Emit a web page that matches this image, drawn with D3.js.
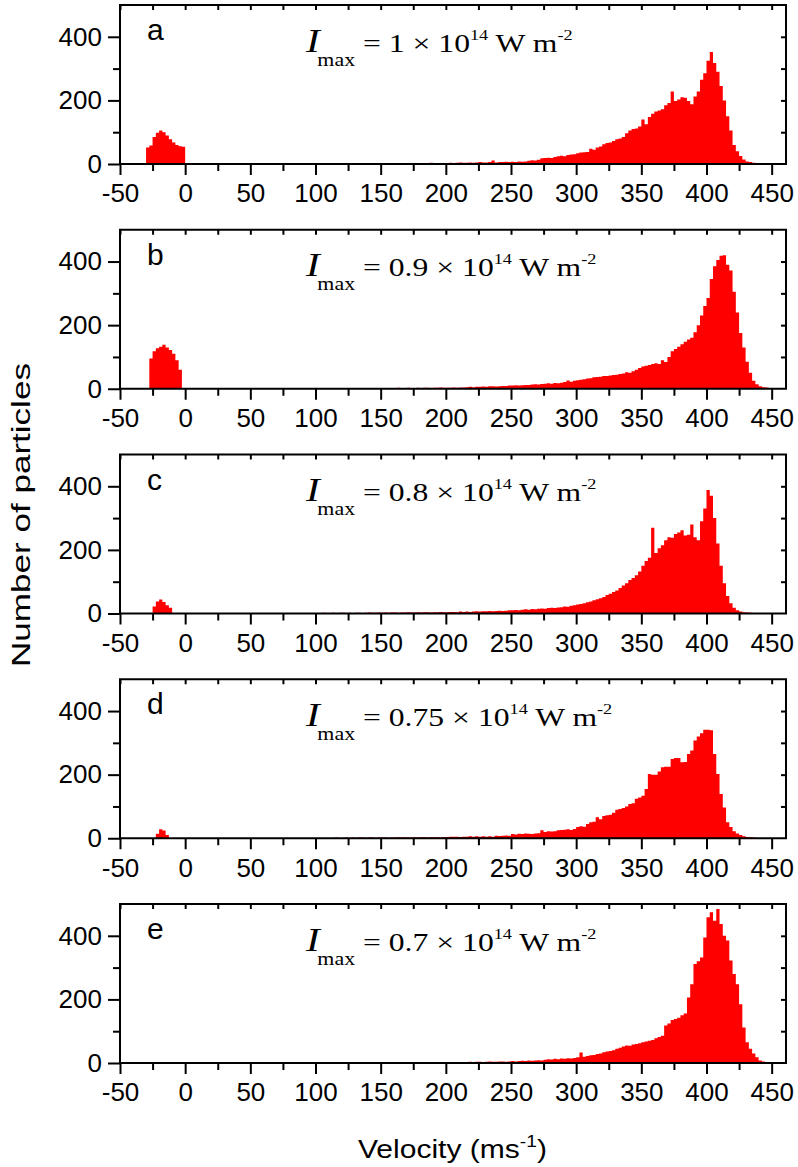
<!DOCTYPE html>
<html>
<head>
<meta charset="utf-8">
<script src="https://cdn.jsdelivr.net/npm/d3@7"></script>
<style>
  body { margin: 0; background: #fff; }
  svg { display: block; }
  text { fill: #000; white-space: pre; }
</style>
</head>
<body>
<svg id="chart" width="798" height="1167"></svg>
<script>
// ---------------------------------------------------------------------
// Data: particle counts per 2.5 m/s velocity bin
// ---------------------------------------------------------------------
const binWidth = 2.5;
const panelLetters = ['a', 'b', 'c', 'd', 'e'];
const intensities = ['1', '0.9', '0.8', '0.75', '0.7'];
const xMajorTicks = [-50, 0, 50, 100, 150, 200, 250, 300, 350, 400, 450];
const xMinorTicks = [-25, 25, 75, 125, 175, 225, 275, 325, 375, 425];
const yMajorTicks = [0, 200, 400];
const yMinorTicks = [100, 300];

// backward-moving particles, bins start at -30
const negStart = -30;
const negA = [52, 58, 85, 98, 105, 100, 90, 78, 68, 60, 56, 54, 3];
const negB = [0, 95, 118, 127, 132, 138, 130, 122, 110, 90, 60, 0];
const negC = [0, 0, 22, 38, 44, 36, 26, 18, 0];
const negD = [0, 0, 0, 14, 28, 24, 10, 0];
const negE = [];

// forward-moving particles
const mainStarts = [100, 100, 100, 100, 190];
const mainA = [
  1, 0, 2, 1, 1, 2, 0, 1, 2, 1, 1, 2, 1, 0, 2, 1, 2, 1, 2, 1,
  2, 1, 3, 2, 1, 2, 2, 3, 1, 2, 3, 2, 2, 3, 2, 4, 3, 2, 3, 3,
  3, 4, 3, 4, 5, 4, 4, 5, 4, 5, 6, 5, 5, 6, 11, 5, 6, 6, 7, 6,
  7, 6, 8, 7, 8, 10, 12, 11, 13, 18, 19, 20, 19, 22, 24, 26, 24, 28, 30, 31,
  34, 36, 37, 38, 48, 45, 52, 55, 62, 66, 68, 72, 78, 80, 85, 97, 105, 110, 112, 118,
  140, 125, 148, 158, 165, 168, 172, 185, 192, 228, 198, 203, 210, 208, 198, 188, 212, 228, 265, 285,
  325, 352, 318, 290, 245, 200, 150, 105, 60, 40, 25, 14, 8, 6, 4, 3, 2, 1, 0, 0
];
const mainB = [
  0, 1, 1, 0, 1, 1, 2, 1, 1, 2, 1, 1, 2, 1, 2, 1, 1, 2, 2, 1,
  2, 2, 1, 2, 2, 3, 2, 2, 3, 2, 2, 3, 2, 3, 3, 2, 3, 3, 4, 3,
  3, 3, 4, 3, 4, 4, 5, 6, 5, 6, 6, 7, 6, 8, 8, 7, 8, 9, 9, 10,
  10, 11, 10, 11, 12, 12, 13, 14, 13, 15, 16, 17, 16, 18, 17, 19, 21, 26, 22, 25,
  27, 28, 30, 32, 33, 36, 37, 38, 40, 40, 42, 43, 44, 46, 48, 52, 50, 55, 60, 65,
  70, 72, 75, 78, 80, 78, 90, 84, 100, 118, 125, 132, 140, 148, 155, 160, 178, 200, 230, 260,
  285, 345, 385, 405, 418, 420, 390, 372, 305, 240, 175, 130, 85, 50, 25, 14, 8, 5, 4, 2
];
const mainC = [
  1, 1, 2, 1, 1, 2, 1, 2, 2, 1, 2, 1, 2, 2, 1, 2, 3, 2, 2, 3,
  2, 3, 2, 3, 3, 2, 3, 3, 4, 3, 3, 4, 3, 4, 4, 3, 4, 4, 5, 4,
  4, 5, 5, 4, 6, 5, 6, 5, 6, 7, 6, 7, 7, 8, 7, 8, 9, 8, 9, 10,
  10, 11, 10, 12, 13, 12, 14, 13, 15, 16, 15, 17, 18, 17, 19, 20, 22, 21, 24, 26,
  28, 30, 32, 35, 38, 42, 45, 48, 52, 58, 62, 68, 72, 80, 88, 95, 105, 112, 120, 132,
  150, 165, 175, 270, 190, 205, 215, 230, 240, 238, 250, 255, 262, 245, 248, 280, 240, 230, 290, 330,
  388, 370, 300, 220, 150, 95, 55, 32, 18, 10, 6, 4, 3, 2, 1, 1, 0, 0, 0, 0
];
const mainD = [
  0, 1, 1, 1, 0, 1, 2, 1, 1, 2, 1, 2, 1, 2, 2, 1, 2, 2, 1, 2,
  2, 2, 1, 2, 2, 3, 2, 3, 2, 2, 3, 2, 3, 3, 2, 3, 3, 3, 2, 3,
  4, 5, 5, 5, 4, 5, 5, 6, 5, 6, 5, 6, 5, 6, 5, 8, 7, 8, 9, 8,
  13, 12, 14, 13, 15, 14, 13, 15, 16, 25, 20, 22, 21, 22, 25, 26, 27, 28, 26, 29,
  35, 38, 36, 45, 50, 52, 66, 60, 70, 72, 74, 80, 90, 92, 95, 100, 108, 110, 124, 128,
  134, 155, 202, 200, 200, 210, 223, 225, 225, 249, 252, 252, 239, 240, 265, 276, 307, 320, 330, 341,
  341, 340, 265, 202, 139, 97, 50, 35, 22, 15, 10, 6, 4, 3, 2, 1, 1, 0, 0, 0
];
const mainE = [
  1, 2, 2, 2,
  2, 2, 2, 2, 3, 2, 3, 4, 3, 4, 4, 3, 4, 5, 4, 4, 5, 5, 4, 5,
  6, 5, 6, 7, 6, 8, 7, 8, 9, 8, 10, 12, 11, 13, 12, 14, 13, 15, 14, 16,
  18, 33, 20, 22, 24, 25, 28, 30, 34, 36, 38, 40, 45, 48, 52, 55, 54, 58, 60, 62,
  65, 68, 70, 72, 78, 82, 86, 118, 124, 135, 138, 142, 150, 156, 206, 248, 311, 320, 332, 395,
  458, 474, 447, 484, 437, 400, 385, 322, 280, 248, 185, 112, 65, 45, 30, 18, 8, 5, 3, 2
];

const negSeries = [negA, negB, negC, negD, negE];
const mainSeries = [mainA, mainB, mainC, mainD, mainE];

// ---------------------------------------------------------------------
// Layout
// ---------------------------------------------------------------------
const sans = '"Liberation Sans", Arial, Helvetica, sans-serif';
const serif = '"Liberation Serif", "Times New Roman", Times, serif';
const red = '#ff0000';

const plotLeft = 120;
const plotW = 666;
const plotH = 159;
const firstTop = 5;
const panelStep = 224.75;

const svg = d3.select('#chart');

const x = d3.scaleLinear().domain([-50, 461]).range([0, plotW]);
const y = d3.scaleLinear().domain([0, 500]).range([plotH, 0]);

const area = d3.area()
  .curve(d3.curveStepAfter)
  .x(d => x(d[0]))
  .y0(y(0))
  .y1(d => y(d[1]));

function toBins(start, counts) {
  const pts = counts.map((c, i) => [start + i * binWidth, c]);
  pts.push([start + counts.length * binWidth, 0]); // close the last bin
  return pts;
}

function styleAxis(sel, withText) {
  sel.select('.domain').remove();
  sel.selectAll('.tick line').attr('stroke', '#000').attr('stroke-width', 2);
  if (withText) {
    sel.selectAll('.tick text')
      .attr('font-family', sans)
      .attr('font-size', 26)
      .attr('fill', '#000');
  } else {
    sel.selectAll('.tick text').remove();
  }
}

let annScale = null;

panelLetters.forEach((letter, i) => {
  const g = svg.append('g')
    .attr('transform', `translate(${plotLeft},${firstTop + i * panelStep})`);

  // histogram bars
  if (negSeries[i].length) {
    g.append('path')
      .datum(toBins(negStart, negSeries[i]))
      .attr('d', area)
      .attr('fill', red);
  }
  g.append('path')
    .datum(toBins(mainStarts[i], mainSeries[i]))
    .attr('d', area)
    .attr('fill', red);

  // bottom axis: major (labelled) and minor ticks, pointing out
  g.append('g')
    .attr('transform', `translate(0,${plotH})`)
    .call(d3.axisBottom(x).tickValues(xMajorTicks).tickSize(11).tickPadding(9).tickFormat(d => String(d)))
    .call(s => styleAxis(s, true));
  g.append('g')
    .attr('transform', `translate(0,${plotH})`)
    .call(d3.axisBottom(x).tickValues(xMinorTicks).tickSize(7))
    .call(s => styleAxis(s, false));

  // left axis
  g.append('g')
    .call(d3.axisLeft(y).tickValues(yMajorTicks).tickSize(12).tickPadding(6).tickFormat(d => String(d)))
    .call(s => styleAxis(s, true));
  g.append('g')
    .call(d3.axisLeft(y).tickValues(yMinorTicks).tickSize(7))
    .call(s => styleAxis(s, false));

  // top and right axes: short ticks pointing in
  g.append('g')
    .call(d3.axisBottom(x).tickValues(xMajorTicks.concat(xMinorTicks)).tickSize(5))
    .call(s => styleAxis(s, false));
  g.append('g')
    .attr('transform', `translate(${plotW},0)`)
    .call(d3.axisLeft(y).tickValues([100, 200, 300, 400]).tickSize(5))
    .call(s => styleAxis(s, false));

  // frame
  g.append('rect')
    .attr('width', plotW)
    .attr('height', plotH)
    .attr('fill', 'none')
    .attr('stroke', '#000')
    .attr('stroke-width', 2);

  // panel letter
  g.append('text')
    .attr('x', 27)
    .attr('y', 35)
    .attr('font-family', sans)
    .attr('font-size', 30)
    .text(letter);

  // I_max annotation
  const ann = g.append('text')
    .attr('font-family', serif)
    .attr('font-size', 26);
  ann.append('tspan').attr('font-style', 'italic').attr('font-size', 34).text('I');
  ann.append('tspan').attr('font-size', 18).attr('dx', -2).attr('dy', 14).text('max');
  ann.append('tspan').attr('dy', -14).text(` = ${intensities[i]} \u00d7 10`);
  ann.append('tspan').attr('font-size', 15).attr('dy', -12).text('14');
  ann.append('tspan').attr('dy', 12).text(' W m');
  ann.append('tspan').attr('font-size', 15).attr('dy', -12).text('-2');
  if (annScale === null) {
    annScale = 268 / ann.node().getBBox().width;
  }
  ann.attr('transform', `translate(186,46.7) scale(${annScale},1)`);
});

// y axis title
const yTitle = svg.append('text')
  .attr('font-family', sans)
  .attr('font-size', 25)
  .attr('text-anchor', 'middle')
  .text('Number of particles');
const yW = yTitle.node().getBBox().width;
yTitle.attr('transform', `translate(30,515) rotate(-90) scale(${304 / yW},1)`);

// x axis title
const xTitle = svg.append('text')
  .attr('font-family', sans)
  .attr('font-size', 25);
xTitle.append('tspan').text('Velocity (ms');
xTitle.append('tspan').attr('font-size', 16).attr('dy', -11).text('-1');
xTitle.append('tspan').attr('dy', 11).text(')');
const xW = xTitle.node().getBBox().width;
xTitle.attr('transform', `translate(358,1158) scale(${189 / xW},1)`);
</script>
</body>
</html>
